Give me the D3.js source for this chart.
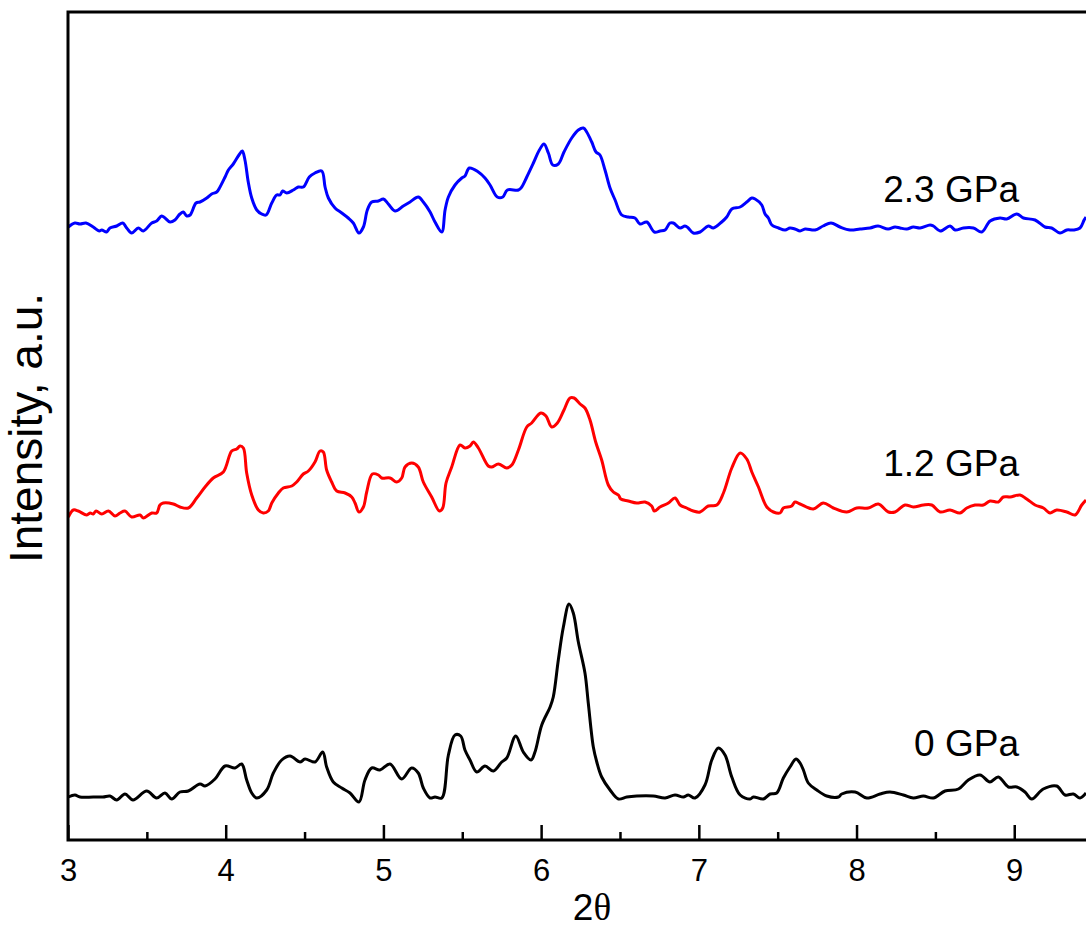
<!DOCTYPE html>
<html><head><meta charset="utf-8">
<script src="https://cdn.jsdelivr.net/npm/d3@7"></script>
<style>
html,body{margin:0;padding:0;background:#fff;}
svg{display:block;font-family:"Liberation Sans",Arial,sans-serif;}
</style></head>
<body><svg id="chart" width="1086" height="927"></svg>
<script>
// 2θ (degrees) and intensity (a.u., offset-stacked as plotted)
const x0GPa = [3.002,3.044,3.076,3.160,3.222,3.266,3.309,3.361,3.412,3.499,3.562,3.615,3.658,3.710,3.763,3.837,3.869,3.932,3.996,4.059,4.101,4.133,4.165,4.197,4.260,4.302,4.355,4.408,4.471,4.503,4.566,4.615,4.640,4.682,4.736,4.788,4.845,4.883,4.926,4.978,5.042,5.116,5.179,5.221,5.253,5.296,5.327,5.370,5.412,5.454,5.490,5.517,5.549,5.592,5.644,5.697,5.750,5.782,5.839,5.887,5.936,5.961,6.004,6.057,6.077,6.109,6.141,6.177,6.204,6.236,6.278,6.299,6.331,6.353,6.384,6.437,6.490,6.543,6.606,6.711,6.786,6.849,6.902,6.933,6.976,7.039,7.082,7.124,7.166,7.209,7.262,7.325,7.346,7.409,7.452,7.494,7.536,7.578,7.616,7.642,7.663,7.694,7.748,7.811,7.885,7.906,7.991,8.065,8.149,8.212,8.297,8.360,8.424,8.487,8.561,8.646,8.709,8.783,8.846,8.899,8.963,9.016,9.068,9.111,9.184,9.269,9.322,9.375,9.417,9.455];
const y0GPa = [43,45,43,43,43,44,40,46,40,49,42,47,41,48,49,56,54,61,74,72,76,60,47,42,50,67,80,84,78,81,78,88,73,58,52,47,38,60,72,70,76,61,72,67,52,42,43,42,85,105,104,90,80,68,74,69,78,82,104,88,80,88,115,133,143,180,213,236,227,198,167,137,93,78,63,50,41,43,44,44,42,45,43,45,42,55,80,92,85,63,45,41,43,41,46,47,62,73,81,77,70,57,50,44,43,46,48,42,46,48,45,42,44,42,49,51,60,65,58,63,53,53,48,41,51,54,45,46,42,47];

const x12GPa = [3.002,3.034,3.065,3.119,3.140,3.160,3.178,3.214,3.256,3.298,3.330,3.361,3.404,3.457,3.477,3.531,3.562,3.583,3.604,3.668,3.710,3.763,3.816,3.869,3.921,3.985,4.038,4.070,4.091,4.112,4.133,4.165,4.207,4.238,4.270,4.292,4.334,4.365,4.419,4.450,4.492,4.524,4.566,4.598,4.619,4.640,4.672,4.704,4.757,4.799,4.820,4.845,4.873,4.894,4.930,4.968,4.989,5.042,5.084,5.116,5.137,5.180,5.221,5.253,5.306,5.355,5.376,5.397,5.433,5.486,5.517,5.549,5.570,5.602,5.665,5.686,5.729,5.782,5.814,5.856,5.909,5.940,5.998,6.031,6.067,6.103,6.145,6.183,6.209,6.247,6.278,6.310,6.346,6.384,6.426,6.458,6.490,6.505,6.553,6.606,6.659,6.701,6.718,6.754,6.807,6.849,6.881,6.923,6.965,7.008,7.060,7.114,7.156,7.209,7.262,7.304,7.336,7.378,7.431,7.473,7.515,7.536,7.589,7.610,7.642,7.726,7.789,7.853,7.938,8.001,8.075,8.138,8.202,8.244,8.307,8.360,8.424,8.477,8.530,8.593,8.656,8.699,8.751,8.804,8.847,8.899,8.931,8.974,9.037,9.079,9.132,9.185,9.227,9.269,9.333,9.386,9.428,9.455];
const y12GPa = [323,330,329,325,327,326,329,326,329,324,327,329,323,325,322,327,327,335,337,336,333,332,342,353,362,368,389,391,394,392,367,345,330,327,329,337,347,352,354,358,366,369,378,389,388,370,358,349,347,343,337,328,333,348,366,365,362,362,358,362,373,377,373,358,343,329,332,357,373,395,392,394,398,392,374,373,376,372,375,390,413,417,427,424,413,417,430,442,442,436,432,420,398,380,355,348,345,341,339,337,338,334,329,333,337,342,335,332,329,328,334,335,347,372,387,381,368,353,333,328,327,332,334,338,336,331,337,332,328,332,332,336,328,328,335,333,335,335,328,330,327,332,335,335,339,338,343,343,345,341,335,332,327,330,328,325,335,340];

const x23GPa = [3.002,3.044,3.076,3.114,3.160,3.198,3.214,3.245,3.266,3.309,3.347,3.372,3.404,3.446,3.477,3.531,3.562,3.594,3.615,3.647,3.678,3.710,3.731,3.753,3.774,3.812,3.837,3.880,3.911,3.943,3.964,3.996,4.017,4.048,4.084,4.105,4.122,4.143,4.165,4.197,4.228,4.256,4.292,4.323,4.344,4.361,4.387,4.429,4.460,4.492,4.530,4.566,4.609,4.630,4.651,4.693,4.736,4.777,4.809,4.845,4.873,4.898,4.926,4.968,5.000,5.031,5.074,5.126,5.169,5.221,5.253,5.296,5.327,5.370,5.391,5.412,5.454,5.497,5.517,5.545,5.602,5.644,5.676,5.722,5.757,5.786,5.856,5.877,5.909,5.951,5.989,6.018,6.046,6.074,6.109,6.145,6.194,6.236,6.268,6.289,6.321,6.348,6.373,6.405,6.437,6.469,6.511,6.553,6.595,6.627,6.670,6.718,6.754,6.786,6.817,6.838,6.881,6.912,6.933,6.965,7.008,7.060,7.092,7.145,7.177,7.209,7.262,7.304,7.336,7.357,7.399,7.420,7.441,7.463,7.505,7.547,7.578,7.610,7.642,7.674,7.737,7.788,7.838,7.895,7.959,8.022,8.086,8.136,8.200,8.244,8.276,8.319,8.360,8.403,8.466,8.487,8.530,8.593,8.625,8.677,8.741,8.794,8.847,8.910,8.952,9.016,9.058,9.132,9.195,9.237,9.290,9.333,9.375,9.417,9.443,9.455];
const y23GPa = [613,617,616,617,613,609,610,608,612,614,617,612,607,612,609,617,619,624,622,618,620,626,628,624,625,637,638,642,646,648,653,663,670,676,685,689,680,658,642,630,626,625,637,645,645,649,647,650,653,653,663,667,669,653,642,632,627,622,617,607,613,630,638,639,641,636,629,634,638,643,638,628,618,608,630,643,655,662,664,672,668,662,655,643,643,650,650,653,663,677,690,696,687,675,676,688,702,710,712,708,698,688,685,670,652,640,625,623,622,616,618,608,609,610,617,617,612,614,612,607,608,614,612,618,623,631,633,638,642,641,635,626,622,615,612,610,612,611,609,611,610,614,617,613,610,611,612,614,611,613,612,611,613,612,615,614,609,614,610,612,612,608,619,622,621,626,622,620,613,612,607,610,610,612,620,623];

const seriesNames = ["0 GPa","1.2 GPa","2.3 GPa"];
const seriesColors = ["#000000","#ff0000","#0000ff"];
const majorTicks = [3,4,5,6,7,8,9];
const minorTicks = [3.5,4.5,5.5,6.5,7.5,8.5];
const xDomain = [3, 9.455];
const yDomain = [0, 828];

const svg = d3.select("#chart");
const L = 68, R = 1086, T = 12, B = 840;
const x = d3.scaleLinear().domain(xDomain).range([L, R]);
const y = d3.scaleLinear().domain(yDomain).range([B, T]);

const series = [
  {name: seriesNames[0], color: seriesColors[0], xs: x0GPa, ys: y0GPa, labelV: 84},
  {name: seriesNames[1], color: seriesColors[1], xs: x12GPa, ys: y12GPa, labelV: 364},
  {name: seriesNames[2], color: seriesColors[2], xs: x23GPa, ys: y23GPa, labelV: 638}
];

const line = d3.line().x(d => x(d[0])).y(d => y(d[1])).curve(d3.curveCatmullRom.alpha(0.5));
series.forEach(s => {
  svg.append("path")
    .datum(s.xs.map((v,i) => [v, s.ys[i]]))
    .attr("d", line)
    .attr("fill","none")
    .attr("stroke", s.color)
    .attr("stroke-width", 3)
    .attr("stroke-linejoin","round");
  svg.append("text")
    .attr("x", 1019).attr("y", y(s.labelV))
    .attr("text-anchor","end")
    .attr("font-size", 37)
    .attr("fill","#000")
    .text(s.name);
});

// axes
const gx = svg.append("g").attr("transform", `translate(0,${B})`)
  .call(d3.axisBottom(x).tickValues(majorTicks).tickFormat(d3.format("d")).tickSize(-15).tickPadding(19));
gx.select(".domain").remove();
gx.selectAll(".tick line").attr("stroke","#000").attr("stroke-width",2.5);
gx.selectAll(".tick text").attr("font-size",31).attr("fill","#000").attr("font-family","'Liberation Sans',Arial,sans-serif");

const gm = svg.append("g").attr("transform", `translate(0,${B})`)
  .call(d3.axisBottom(x).tickValues(minorTicks).tickFormat("").tickSize(-8));
gm.select(".domain").remove();
gm.selectAll(".tick line").attr("stroke","#000").attr("stroke-width",2.5);

svg.append("path").attr("d", `M${R},${T}H${L}V${B}H${R}`)
  .attr("fill","none").attr("stroke","#000").attr("stroke-width",3);

// axis titles
const xt = svg.append("text").attr("x", 592).attr("y", 920).attr("text-anchor","middle")
  .attr("font-size", 37).attr("fill","#000");
xt.append("tspan").text("2");
xt.append("tspan").attr("font-family","'Liberation Serif','Times New Roman',serif").text("θ");

svg.append("text").attr("transform","translate(42,428) rotate(-90)")
  .attr("text-anchor","middle").attr("font-size",46).attr("fill","#000")
  .text("Intensity, a.u.");
</script></body></html>
